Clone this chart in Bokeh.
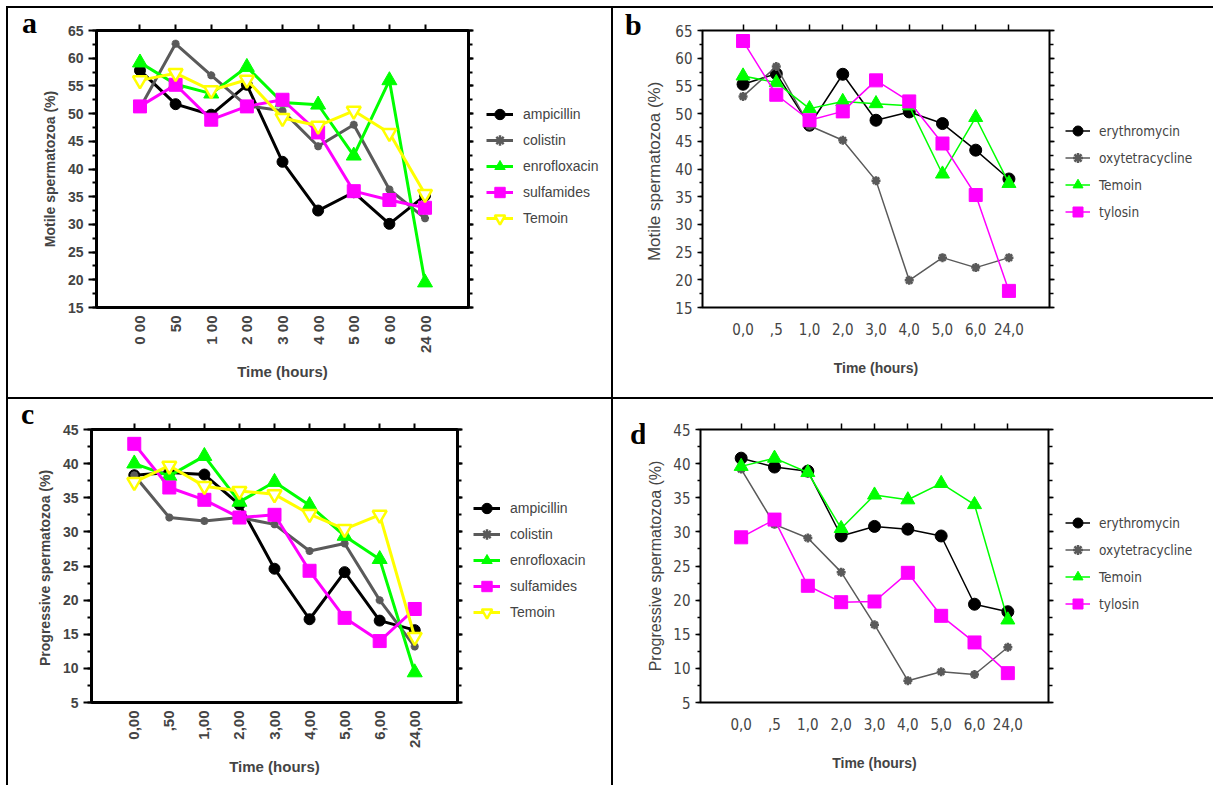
import math
from bokeh.plotting import figure
from bokeh.models import (ColumnDataSource, FactorRange, Range1d, LinearAxis, CategoricalAxis,
                          SingleIntervalTicker, Legend, LegendItem, Spacer, Div)
from bokeh.layouts import row, column
from bokeh.embed import file_html
from bokeh.resources import INLINE

# ---------------- data ----------------
time_a = ["0 00", "50", "1 00", "2 00", "3 00", "4 00", "5 00", "6 00", "24 00"]
time_b = ["0,0", ",5", "1,0", "2,0", "3,0", "4,0", "5,0", "6,0", "24,0"]
time_c = ["0,00", ",50", "1,00", "2,00", "3,00", "4,00", "5,00", "6,00", "24,00"]
time_d = ["0,0", ",5", "1,0", "2,0", "3,0", "4,0", "5,0", "6,0", "24,0"]

a_ampicillin = [57.8, 51.7, 49.8, 55.2, 41.3, 32.5, 35.8, 30.1, 35.2]
a_colistin = [51.0, 62.6, 56.9, 51.4, 50.5, 44.1, 48.0, 36.3, 31.1]
a_enrofloxacin = [59.2, 55.3, 53.6, 58.4, 52.0, 51.6, 42.4, 56.0, 19.5]
a_sulfamides = [51.3, 55.2, 48.9, 51.3, 52.5, 46.6, 36.0, 34.4, 33.0]
a_temoin = [56.0, 57.3, 54.2, 56.1, 49.2, 47.8, 50.5, 46.5, 35.5]

b_erythromycin = [55.3, 57.2, 47.9, 57.1, 48.8, 50.3, 48.2, 43.4, 38.2]
b_oxytetracycline = [53.1, 58.5, 47.8, 45.2, 37.9, 19.9, 24.0, 22.2, 24.0]
b_temoin = [56.8, 55.6, 50.9, 52.2, 51.8, 51.4, 39.1, 49.3, 37.4]
b_tylosin = [63.1, 53.4, 48.8, 50.4, 56.0, 52.2, 44.6, 35.3, 18.0]

c_ampicillin = [38.3, 38.7, 38.4, 34.0, 24.6, 17.2, 24.1, 17.0, 15.6]
c_colistin = [38.3, 32.1, 31.6, 32.1, 31.1, 27.2, 28.3, 20.0, 13.2]
c_enrofloxacin = [40.0, 38.2, 41.1, 34.4, 37.3, 33.9, 29.4, 26.0, 9.4]
c_sulfamides = [42.9, 36.5, 34.7, 32.1, 32.5, 24.3, 17.4, 14.0, 18.7]
c_temoin = [37.3, 39.7, 36.7, 36.0, 35.5, 32.6, 30.4, 32.5, 14.6]

d_erythromycin = [40.8, 39.5, 38.9, 29.4, 30.8, 30.4, 29.4, 19.4, 18.3]
d_oxytetracycline = [39.2, 31.1, 29.1, 24.1, 16.4, 8.2, 9.5, 9.1, 13.1]
d_temoin = [39.6, 40.8, 38.7, 30.5, 35.4, 34.7, 37.1, 34.0, 17.1]
d_tylosin = [29.2, 31.8, 22.1, 19.7, 19.8, 24.0, 17.7, 13.8, 9.3]

BLACK = "#000000"
GRAY = "#5a5a5a"
GREEN = "#00ff00"
MAGENTA = "#ff00ff"
YELLOW = "#ffff00"

BOLD_FONT = "Liberation Sans"
NARROW_FONT = "DejaVu Sans Condensed, Liberation Sans"


def marker_lw(marker):
    return 2.5 if marker in ("asterisk", "inverted_triangle") else 1


def plot_panel(w, h, bl, br, bt, bb, factors, yr, bold, ylabel, ylabel_standoff, ylabel_size, series):
    p = figure(width=w, height=h, title=None,
               x_range=FactorRange(factors=factors, range_padding=0.72, range_padding_units="absolute"),
               y_range=Range1d(*yr), output_backend="svg", toolbar_location=None,
               min_border_left=bl, min_border_right=br, min_border_top=bt, min_border_bottom=bb)
    p.grid.visible = False
    p.background_fill_color = "white"
    p.border_fill_color = "white"
    p.outline_line_color = BLACK
    p.outline_line_width = 3 if bold else 2
    p.outline_line_alpha = 1

    tick_font = BOLD_FONT if bold else NARROW_FONT
    tick_style = "bold" if bold else "normal"

    yax = p.yaxis[0]
    yax.ticker = SingleIntervalTicker(interval=5, num_minor_ticks=2)
    yax.axis_line_color = None
    yax.major_tick_out = 8 if bold else 5
    yax.major_tick_in = 0
    yax.minor_tick_out = 4 if bold else 3
    yax.minor_tick_in = 0
    yax.major_tick_line_width = 2 if bold else 1.5
    yax.minor_tick_line_width = 2 if bold else 1.5
    yax.major_label_standoff = 5
    yax.major_label_text_font = tick_font
    yax.major_label_text_font_style = tick_style
    yax.major_label_text_font_size = "14px" if bold else "15px"
    yax.axis_label = ylabel
    yax.axis_label_standoff = ylabel_standoff
    yax.axis_label_text_font = BOLD_FONT
    yax.axis_label_text_font_style = "bold" if bold else "normal"
    yax.axis_label_text_font_size = ylabel_size

    xax = p.xaxis[0]
    xax.axis_line_color = None
    xax.major_tick_line_color = None
    xax.major_tick_out = 0
    xax.major_tick_in = 0
    xax.major_label_text_font = tick_font
    xax.major_label_text_font_style = tick_style
    xax.major_label_text_font_size = "15px"
    xax.major_label_standoff = 8 if bold else 15
    if bold:
        xax.major_label_orientation = math.pi / 2
    xax.axis_label = "Time (hours)"
    xax.axis_label_standoff = 7 if bold else 22
    xax.axis_label_text_font = BOLD_FONT
    xax.axis_label_text_font_style = "bold"
    xax.axis_label_text_font_size = "15px" if bold else "14px"

    top = CategoricalAxis(axis_line_color=None, major_tick_out=6, major_tick_in=0,
                          major_tick_line_width=2 if bold else 1.5,
                          major_label_text_color=None, major_label_text_font_size="1px",
                          major_label_standoff=0)
    p.add_layout(top, "above")
    right = LinearAxis(ticker=SingleIntervalTicker(interval=5, num_minor_ticks=2),
                       axis_line_color=None, major_tick_out=5, major_tick_in=0,
                       minor_tick_out=4, minor_tick_in=0,
                       major_tick_line_width=2 if bold else 1.5,
                       minor_tick_line_width=2 if bold else 1.5,
                       major_label_text_color=None, major_label_text_font_size="1px",
                       major_label_standoff=0)
    p.add_layout(right, "right")

    lw = 3 if bold else 1.5
    for name, vals, color, marker, size, fill in series:
        src = ColumnDataSource(dict(x=factors, y=vals))
        p.line("x", "y", source=src, line_color=color, line_width=lw)
        p.scatter("x", "y", source=src, marker=marker, size=size,
                  line_color=color, fill_color=fill, line_width=marker_lw(marker))
    return p


def legend_panel(w, h, bold, factors, series, loc):
    # the legend lives in its own small figure next to the plot; its proxy renderers
    # use the same series, but the y range is chosen so that they stay out of view
    p = figure(width=w, height=h, title=None, x_axis_type=None, y_axis_type=None,
               x_range=FactorRange(factors=factors), y_range=Range1d(-2, -1),
               output_backend="svg", toolbar_location=None, min_border=0)
    p.outline_line_color = None
    p.background_fill_color = "white"
    p.border_fill_color = "white"
    lw = 3 if bold else 1.5
    items = []
    for name, vals, color, marker, size, fill in series:
        src = ColumnDataSource(dict(x=factors, y=vals))
        lr = p.line("x", "y", source=src, line_color=color, line_width=lw)
        sr = p.scatter("x", "y", source=src, marker=marker, size=size, line_color=color,
                       fill_color=fill, line_width=marker_lw(marker))
        items.append(LegendItem(label=name, renderers=[lr, sr]))
    gh = 26 if bold else 27
    leg = Legend(items=items, location=loc, orientation="vertical",
                 glyph_width=27 if bold else 25, glyph_height=gh, label_height=gh,
                 spacing=0, padding=0, margin=0,
                 label_standoff=10 if bold else 9,
                 border_line_color=None, background_fill_alpha=0,
                 label_text_font=BOLD_FONT if bold else NARROW_FONT,
                 label_text_font_size="14px" if bold else "13.5px")
    p.add_layout(leg)
    return p


def letter_div(letter, w, h, pad_left, pad_top):
    html = ('<div style="font-family:\'Liberation Serif\',serif;font-weight:bold;'
            'font-size:30px;line-height:30px;padding-left:%dpx;padding-top:%dpx;'
            'color:black">%s</div>' % (pad_left, pad_top, letter))
    return Div(text=html, width=w, height=h, margin=0)


ser_a = [
    ("ampicillin", a_ampicillin, BLACK, "circle", 11, BLACK),
    ("colistin", a_colistin, GRAY, "asterisk", 8, GRAY),
    ("enrofloxacin", a_enrofloxacin, GREEN, "triangle", 15, GREEN),
    ("sulfamides", a_sulfamides, MAGENTA, "square", 13, MAGENTA),
    ("Temoin", a_temoin, YELLOW, "inverted_triangle", 14, "white"),
]
ser_b = [
    ("erythromycin", b_erythromycin, BLACK, "circle", 12, BLACK),
    ("oxytetracycline", b_oxytetracycline, GRAY, "asterisk", 9, GRAY),
    ("Temoin", b_temoin, GREEN, "triangle", 14, GREEN),
    ("tylosin", b_tylosin, MAGENTA, "square", 13, MAGENTA),
]
ser_c = [
    ("ampicillin", c_ampicillin, BLACK, "circle", 11, BLACK),
    ("colistin", c_colistin, GRAY, "asterisk", 8, GRAY),
    ("enrofloxacin", c_enrofloxacin, GREEN, "triangle", 15, GREEN),
    ("sulfamides", c_sulfamides, MAGENTA, "square", 13, MAGENTA),
    ("Temoin", c_temoin, YELLOW, "inverted_triangle", 14, "white"),
]
ser_d = [
    ("erythromycin", d_erythromycin, BLACK, "circle", 12, BLACK),
    ("oxytetracycline", d_oxytetracycline, GRAY, "asterisk", 9, GRAY),
    ("Temoin", d_temoin, GREEN, "triangle", 14, GREEN),
    ("tylosin", d_tylosin, MAGENTA, "square", 13, MAGENTA),
]

H1, H2 = 389, 386

pa = plot_panel(448, H1, 57, 18, 22, 90, time_a, (15, 65), True,
                "Motile spermatozoa (%)", 7, "14px", ser_a)
la = legend_panel(125, H1, True, time_a, ser_a, (0, 76))
da = letter_div("a", 30, H1, 14, 0)

pb = plot_panel(423, H1, 55, 16, 22, 84, time_b, (15, 65), False,
                "Motile  spermatozoa (%)", 8, "17px", ser_b)
lb = legend_panel(148, H1, False, time_b, ser_b, (0, 82))
db = letter_div("b", 29, H1, 12, 2)

pc = plot_panel(440, H2, 54, 16, 30, 83, time_c, (5, 45), True,
                "Progressive  spermatozoa (%)", 7, "14px", ser_c)
lc = legend_panel(138, H2, True, time_c, ser_c, (0, 77))
dc = letter_div("c", 25, H2, 13, 0)

pd_ = plot_panel(420, H2, 51, 16, 21, 80, time_d, (5, 45), False,
                 "Progressive spermatozoa (%)", 6, "16px", ser_d)
ld = legend_panel(149, H2, False, time_d, ser_d, (1, 85))
dd = letter_div("d", 31, H2, 17, 20)


def blk(w, h):
    return Spacer(width=w, height=h, styles={"background-color": "black"})


def wht(w, h):
    return Spacer(width=w, height=h)


layout = column(
    wht(1213, 6),
    row(wht(6, 2), blk(1207, 2)),
    row(wht(6, H1), blk(2, H1), da, pa, la, blk(2, H1), db, pb, lb),
    row(wht(6, 2), blk(1207, 2)),
    row(wht(6, H2), blk(2, H2), dc, pc, lc, blk(2, H2), dd, pd_, ld),
)

open("out.html", "w").write(file_html(layout, INLINE))
